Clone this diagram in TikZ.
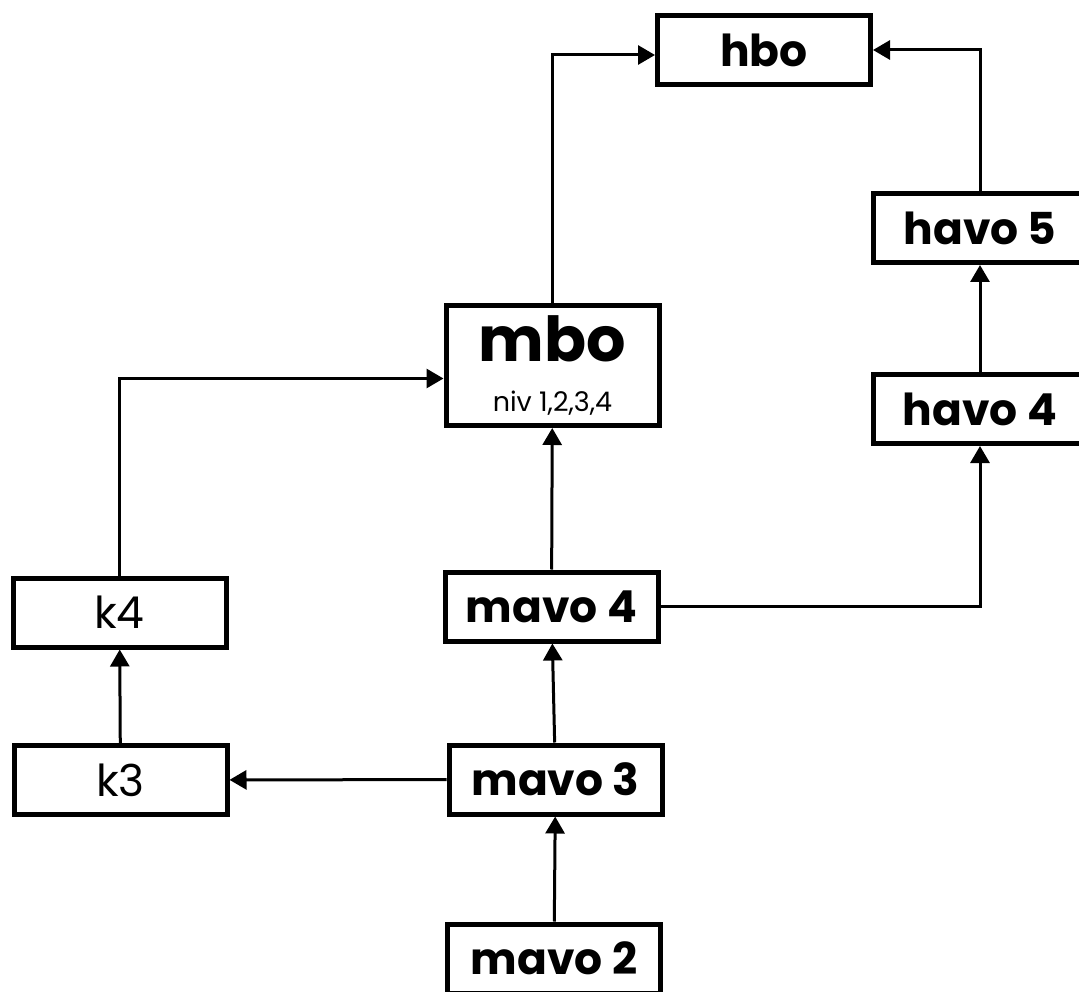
\documentclass[tikz,border=0pt]{standalone}
\usepackage{fontspec}
\setmainfont{Poppins}
\usetikzlibrary{arrows.meta}

\begin{document}
\begin{tikzpicture}[x=1pt,y=-1pt,>={Triangle[length=17pt,width=19pt]}]
                \clip (0,0) rectangle (1079,992);
                \fill[white] (0,0) rectangle (1079,992);
                \begin{scope}[every node/.style={rectangle,draw=black,line width=5pt,minimum width=213pt,minimum height=69pt,inner sep=0pt,font=\fontsize{44}{50}\selectfont\bfseries}]
                    \node (hbo) at (764,50) {hbo};
                    \node (havo5) at (980,228) {havo 5};
                    \node (havo4) at (980,409) {havo 4};
                    \node (mbo) [minimum height=120pt,align=center] at (552.5,365.5) {{\fontsize{62}{64}\selectfont mbo}\\[0pt]{\fontsize{27}{30}\selectfont\mdseries niv 1,2,3,4}};
                    \node (mavo4) at (551.5,606.5) {mavo 4};
                    \node (k4) [font=\fontsize{44}{50}\selectfont] at (119.5,612.5) {k4};
                    \node (k3) [font=\fontsize{44}{50}\selectfont] at (120.5,780) {k3};
                    \node (mavo3) at (555.5,779.5) {mavo 3};
                    \node (mavo2) at (554,958.5) {mavo 2};
                \end{scope}
                \begin{scope}[every path/.style={draw=black,line width=3pt}]
                    \draw[->] (mbo.north) |- ([yshift=-5pt]hbo.west);
                    \draw[->] (havo5.north) |- (hbo.east);
                    \draw[->] (havo4) -- (havo5);
                    \draw[->] (mavo4.east) -| (havo4.south);
                    \draw[->] (mavo4) -- (mbo);
                    \draw[->] (k4.north) |- ([yshift=-13pt]mbo.west);
                    \draw[->] (mavo3) -- (mavo4);
                    \draw[->] (mavo3) -- (k3);
                    \draw[->] (k3) -- (k4);
                    \draw[->] (mavo2) -- (mavo3);
                \end{scope}
            \end{tikzpicture}
\end{document}
